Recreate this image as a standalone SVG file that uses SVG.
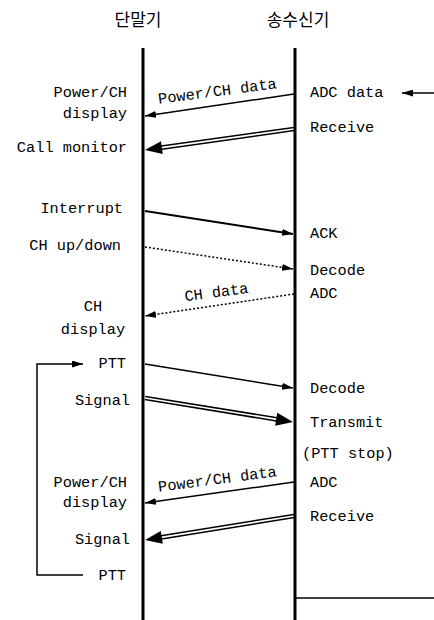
<svg xmlns="http://www.w3.org/2000/svg" width="434" height="620" viewBox="0 0 434 620">
<defs>
<style>
.hd{font-family:"Noto Sans CJK KR","Noto Sans",sans-serif;font-size:17px;fill:#000;text-anchor:middle}
.t{font-family:"Liberation Mono","DejaVu Sans Mono",monospace;font-size:15.3px;fill:#000}
.e{text-anchor:end}
.m{text-anchor:middle}
.ln{stroke:#000;fill:none}
.s{stroke-width:1.5}
.dot{stroke-width:1.5;stroke-dasharray:2 2}
.dl{stroke:#000;stroke-width:1.5;fill:none}
.hh{fill:#000}
</style>
<marker id="ah" viewBox="0 0 11 7" refX="11" refY="3.5" markerWidth="11" markerHeight="7" markerUnits="userSpaceOnUse" orient="auto"><path d="M0,0 L11,3.5 L0,7 z" fill="#000"/></marker>
<path id="dhead" d="M0,0 L-17,-6.5 L-17,6.5 z"/>
</defs>

<g id="terminal">
<text class="hd" x="138" y="26">단말기</text>
<line class="ln" x1="143" y1="48" x2="143" y2="620" stroke-width="3"/>
</g>
<g id="transceiver">
<text class="hd" x="298" y="26">송수신기</text>
<line class="ln" x1="295" y1="48" x2="295" y2="620" stroke-width="3"/>
</g>

<g id="left-labels">
<text class="t e" x="127" y="97">Power/CH</text>
<text class="t e" x="127" y="118">display</text>
<text class="t e" x="127" y="152">Call monitor</text>
<text class="t e" x="123" y="213">Interrupt</text>
<text class="t e" x="121" y="250">CH up/down</text>
<text class="t m" x="93" y="311">CH</text>
<text class="t m" x="93" y="334">display</text>
<text class="t e" x="126" y="368">PTT</text>
<text class="t e" x="130" y="405">Signal</text>
<text class="t e" x="127" y="487">Power/CH</text>
<text class="t e" x="127" y="507">display</text>
<text class="t e" x="130" y="544">Signal</text>
<text class="t e" x="126" y="580">PTT</text>
</g>

<g id="right-labels">
<text class="t" x="310" y="97">ADC data</text>
<text class="t" x="310" y="132">Receive</text>
<text class="t" x="310" y="238">ACK</text>
<text class="t" x="310" y="275">Decode</text>
<text class="t" x="310" y="298">ADC</text>
<text class="t" x="310" y="393">Decode</text>
<text class="t" x="310" y="427">Transmit</text>
<text class="t" x="302" y="458">(PTT stop)</text>
<text class="t" x="310" y="487">ADC</text>
<text class="t" x="310" y="521">Receive</text>
</g>

<g id="connectors">
<line class="ln s" x1="434" y1="93" x2="402" y2="93" marker-end="url(#ah)"/>
<line class="ln s" x1="294" y1="94" x2="145" y2="116" marker-end="url(#ah)"/>
<text class="t m" x="218" y="96" transform="rotate(-7.5 218 96)">Power/CH data</text>
<g transform="translate(145,150) rotate(171.98)">
<line class="dl" x1="-150.5" y1="-1.6" x2="-15" y2="-1.6"/>
<line class="dl" x1="-150.5" y1="1.6" x2="-15" y2="1.6"/>
<use href="#dhead" class="hh"/>
</g>
<line class="ln" stroke-width="2" x1="145" y1="211" x2="293" y2="234" marker-end="url(#ah)"/>
<line class="ln dot" x1="145" y1="247" x2="293" y2="269" marker-end="url(#ah)"/>
<line class="ln dot" x1="294" y1="294" x2="145" y2="316" marker-end="url(#ah)"/>
<text class="t m" x="217" y="297" transform="rotate(-7.5 217 297)">CH data</text>
<line class="ln s" x1="145" y1="364" x2="293" y2="388" marker-end="url(#ah)"/>
<g transform="translate(293,422) rotate(9.21)">
<line class="dl" x1="-149.9" y1="-1.6" x2="-15" y2="-1.6"/>
<line class="dl" x1="-149.9" y1="1.6" x2="-15" y2="1.6"/>
<use href="#dhead" class="hh"/>
</g>
<line class="ln s" x1="294" y1="482" x2="145" y2="503" marker-end="url(#ah)"/>
<text class="t m" x="218" y="484" transform="rotate(-7.5 218 484)">Power/CH data</text>
<g transform="translate(145,540) rotate(170.85)">
<line class="dl" x1="-150.9" y1="-1.6" x2="-15" y2="-1.6"/>
<line class="dl" x1="-150.9" y1="1.6" x2="-15" y2="1.6"/>
<use href="#dhead" class="hh"/>
</g>
<polyline class="ln s" points="83,575 37,575 37,364 83,364" marker-end="url(#ah)"/>
<line class="ln s" x1="295" y1="598" x2="434" y2="598"/>
</g>
</svg>
